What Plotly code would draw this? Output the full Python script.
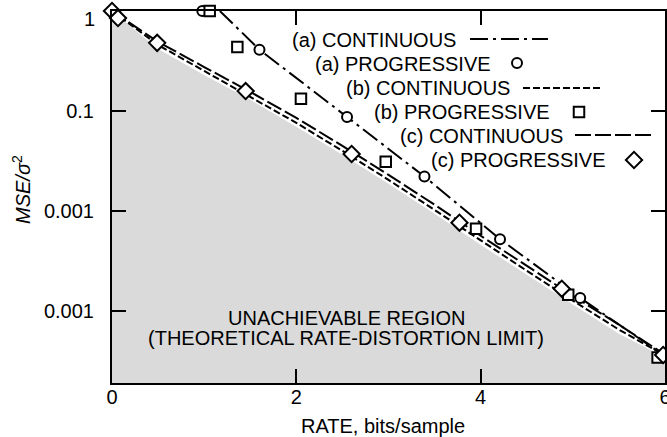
import plotly.graph_objects as go

# ---------------- data ----------------
rate_a_cont = [1.17, 1.60, 2.55, 3.39, 4.21, 5.08, 6.0]
mse_a_cont = [1.0, 0.41, 0.087, 0.022, 0.0052, 0.00134, 0.00035]

rate_cont = [0, 0.5, 1, 1.5, 2, 2.5, 3, 3.5, 4, 4.5, 5, 5.5, 6]
mse_b_cont = [1.0, 0.457, 0.251, 0.138, 0.0759, 0.0398, 0.0204, 0.0102,
              0.00501, 0.00251, 0.00126, 0.000646, 0.000355]
mse_c_cont = [1.0, 0.490, 0.275, 0.155, 0.0851, 0.0447, 0.0229, 0.0115,
              0.00562, 0.00282, 0.00141, 0.000724, 0.000363]

rate_a_prog = [0.98, 1.60, 2.55, 3.39, 4.21, 5.08, 5.98]
mse_a_prog = [1.0, 0.41, 0.087, 0.022, 0.0052, 0.00134, 0.00036]

rate_b_prog = [1.06, 1.36, 2.05, 2.97, 3.95, 4.95, 5.92]
mse_b_prog = [1.0, 0.436, 0.132, 0.031, 0.0066, 0.00144, 0.00034]

rate_c_prog = [0.0, 0.065, 0.49, 1.45, 2.60, 3.77, 4.88, 5.98]
mse_c_prog = [1.0, 0.85, 0.48, 0.158, 0.037, 0.0076, 0.00166, 0.00036]

rate_limit = [0, 0.5, 1, 1.5, 2, 2.5, 3, 3.5, 4, 4.5, 5, 5.5, 6]
mse_limit = [1.0, 0.417, 0.229, 0.129, 0.0692, 0.0363, 0.0186, 0.00933,
             0.00457, 0.00229, 0.00115, 0.000589, 0.000339]

x_tick_vals = [0, 2, 4, 6]
x_tick_text = ["0", "2", "4", "6"]
y_tick_vals = [0.1, 0.01, 0.001]
y_tick_text = ["0.1", "0.001", "0.001"]
top_tick_label = "1"

legend_labels = ["(a) CONTINUOUS", "(a) PROGRESSIVE", "(b) CONTINUOUS",
                 "(b) PROGRESSIVE", "(c) CONTINUOUS", "(c) PROGRESSIVE"]

# ---------------- layout constants ----------------
W, H = 667, 437
ML, MR, MT, MB = 112, 2, 11, 54
PW, PH = W - ML - MR, H - MT - MB
FONT = "Liberation Sans, Arial, Helvetica, sans-serif"
FS = 20
FLOOR = 1e-6


def px2fx(px):
    return (px - ML) / PW


def py2fy(py):
    return 1 - (py - MT) / PH


DASH_A = "18px,5px,3px,5px"
DASH_B = "7px,3px"
DASH_C = "16px,4px"
LW = 2


def mk(symbol, size):
    return dict(symbol=symbol, size=size, color="white",
                line=dict(color="black", width=2))


MK_A = mk("circle", 10)
MK_B = mk("square", 10.5)
MK_C = mk("diamond", 12.5)

fig = go.Figure()

# unachievable region
fig.add_trace(go.Scatter(
    x=rate_limit + [rate_limit[-1], rate_limit[0]],
    y=mse_limit + [FLOOR, FLOOR],
    fill="toself", fillcolor="#dadada", mode="lines",
    line=dict(width=0, color="#dadada"), hoverinfo="skip", showlegend=False))

# continuous curves
fig.add_trace(go.Scatter(x=rate_a_cont, y=mse_a_cont, mode="lines",
                         line=dict(color="black", width=LW, dash=DASH_A),
                         showlegend=False))
fig.add_trace(go.Scatter(x=rate_cont, y=mse_b_cont, mode="lines",
                         line=dict(color="black", width=LW, dash=DASH_B),
                         showlegend=False))
fig.add_trace(go.Scatter(x=rate_cont, y=mse_c_cont, mode="lines",
                         line=dict(color="black", width=LW, dash=DASH_C),
                         showlegend=False))

# progressive points
fig.add_trace(go.Scatter(x=rate_a_prog, y=mse_a_prog, mode="markers",
                         marker=MK_A, cliponaxis=False, showlegend=False))
fig.add_trace(go.Scatter(x=rate_b_prog, y=mse_b_prog, mode="markers",
                         marker=MK_B, cliponaxis=False, showlegend=False))
fig.add_trace(go.Scatter(x=rate_c_prog, y=mse_c_prog, mode="markers",
                         marker=MK_C, cliponaxis=False, showlegend=False))

# ---------------- legend (text then sample, right-aligned) ----------------
row_y = [40, 64, 88, 112, 136, 160]
text_right = [458, 493, 512, 552, 565, 607]
for lab, ry, tr in zip(legend_labels, row_y, text_right):
    fig.add_annotation(text=lab, xref="paper", yref="paper",
                       x=px2fx(tr), y=py2fy(ry), xanchor="right",
                       yanchor="middle", showarrow=False,
                       font=dict(family=FONT, size=FS, color="black"))

# legend samples on an invisible overlay axis (0..1 both ways)
fig.add_trace(go.Scatter(x=[px2fx(470), px2fx(548)], y=[py2fy(39)] * 2,
                         mode="lines", xaxis="x2", yaxis="y2",
                         line=dict(color="black", width=LW, dash=DASH_A),
                         showlegend=False))
fig.add_trace(go.Scatter(x=[px2fx(517)], y=[py2fy(63)], mode="markers",
                         xaxis="x2", yaxis="y2", cliponaxis=False,
                         marker=MK_A, showlegend=False))
fig.add_trace(go.Scatter(x=[px2fx(523), px2fx(602)], y=[py2fy(88)] * 2,
                         mode="lines", xaxis="x2", yaxis="y2",
                         line=dict(color="black", width=LW, dash=DASH_B),
                         showlegend=False))
fig.add_trace(go.Scatter(x=[px2fx(579)], y=[py2fy(112)], mode="markers",
                         xaxis="x2", yaxis="y2", cliponaxis=False,
                         marker=MK_B, showlegend=False))
fig.add_trace(go.Scatter(x=[px2fx(575), px2fx(653)], y=[py2fy(135)] * 2,
                         mode="lines", xaxis="x2", yaxis="y2",
                         line=dict(color="black", width=LW, dash=DASH_C),
                         showlegend=False))
fig.add_trace(go.Scatter(x=[px2fx(634)], y=[py2fy(160)], mode="markers",
                         xaxis="x2", yaxis="y2", cliponaxis=False,
                         marker=MK_C, showlegend=False))

# region text
fig.add_annotation(text="UNACHIEVABLE REGION", xref="paper", yref="paper",
                   x=px2fx(346), y=py2fy(318), xanchor="center",
                   yanchor="middle", showarrow=False,
                   font=dict(family=FONT, size=FS, color="black"))
fig.add_annotation(text="(THEORETICAL RATE-DISTORTION LIMIT)", xref="paper",
                   yref="paper", x=px2fx(346), y=py2fy(338), xanchor="center",
                   yanchor="middle", showarrow=False,
                   font=dict(family=FONT, size=FS, color="black"))

# axis titles
fig.add_annotation(text="RATE, bits/sample", xref="paper", yref="paper",
                   x=px2fx(383), y=py2fy(426), xanchor="center",
                   yanchor="middle", showarrow=False,
                   font=dict(family=FONT, size=FS, color="black"))
fig.add_annotation(text="<i>MSE/σ</i><sup>2</sup>", xref="paper", yref="paper",
                   x=px2fx(21), y=py2fy(190), xanchor="center",
                   yanchor="middle", textangle=-90, showarrow=False,
                   font=dict(family=FONT, size=FS, color="black"))
# top tick label (sits a little below its tick in the reference)
fig.add_annotation(text=top_tick_label, xref="paper", yref="paper",
                   x=px2fx(97), y=py2fy(19), xanchor="right",
                   yanchor="middle", showarrow=False,
                   font=dict(family=FONT, size=FS, color="black"))

axis_common = dict(showline=True, linecolor="black", linewidth=2,
                   mirror="ticks", ticks="inside", ticklen=14, tickwidth=1.5,
                   tickcolor="black", showgrid=False, zeroline=False,
                   tickfont=dict(family=FONT, size=FS, color="black"))

fig.update_layout(
    width=W, height=H,
    margin=dict(l=ML, r=MR, t=MT, b=MB, autoexpand=False),
    paper_bgcolor="white", plot_bgcolor="white",
    showlegend=False,
    xaxis=dict(range=[0, 6], tickvals=x_tick_vals, ticktext=x_tick_text,
               ticklabelstandoff=-5, ticklabeloverflow="allow",
               **axis_common),
    yaxis=dict(type="log", range=[-3.724, 0], tickvals=y_tick_vals,
               ticktext=y_tick_text, ticklabelstandoff=12, **axis_common),
    xaxis2=dict(overlaying="x", anchor="y2", range=[0, 1], visible=False),
    yaxis2=dict(overlaying="y", anchor="x2", range=[0, 1], visible=False),
)

fig.write_html("out.html")
